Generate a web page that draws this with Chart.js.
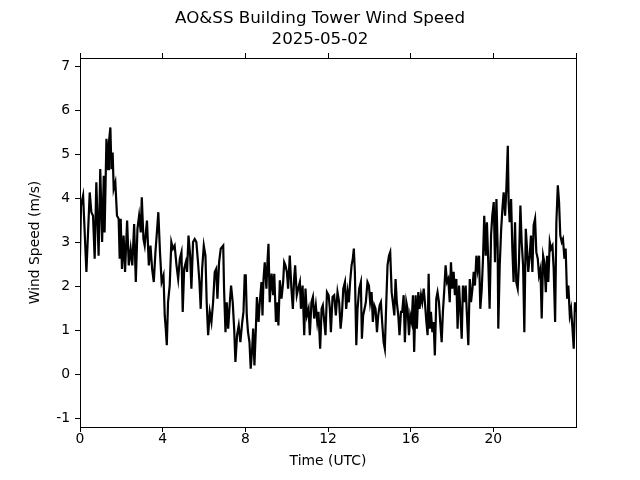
<!DOCTYPE html>
<html>
<head>
<meta charset="utf-8">
<title>AO&amp;SS Building Tower Wind Speed</title>
<script src="https://cdn.jsdelivr.net/npm/chart.js@4.4.1/dist/chart.umd.min.js"></script>
<style>
  html, body { margin: 0; padding: 0; background: #fff; }
  #wrap { width: 640px; height: 480px; }
</style>
</head>
<body>
<div id="wrap"><canvas id="windChart" width="640" height="480"></canvas></div>
<script>
// Time of each reading, hours UTC
const hours = [
  0.00, 0.05, 0.15, 0.31, 0.47, 0.55, 0.63, 0.71, 0.79, 0.90,
  0.98, 1.07, 1.15, 1.19, 1.28, 1.36, 1.40, 1.47, 1.52, 1.58,
  1.63, 1.71, 1.79, 1.87, 1.92, 1.97, 2.03, 2.11, 2.18, 2.28,
  2.36, 2.45, 2.53, 2.62, 2.70, 2.78, 2.86, 2.94, 2.99, 3.07,
  3.13, 3.24, 3.33, 3.41, 3.49, 3.57, 3.65, 3.71, 3.79, 3.87,
  3.95, 4.04, 4.10, 4.15, 4.20, 4.26, 4.34, 4.42, 4.50, 4.58,
  4.67, 4.75, 4.83, 4.91, 4.97, 5.04, 5.12, 5.18, 5.25, 5.33,
  5.39, 5.47, 5.55, 5.63, 5.71, 5.78, 5.84, 5.91, 5.99, 6.07,
  6.13, 6.20, 6.28, 6.36, 6.44, 6.52, 6.59, 6.65, 6.73, 6.81,
  6.93, 6.97, 7.04, 7.10, 7.17, 7.25, 7.31, 7.39, 7.46, 7.52,
  7.60, 7.68, 7.76, 7.85, 7.91, 7.97,
  8.02, 8.07, 8.13, 8.20, 8.26, 8.33, 8.38, 8.44, 8.51, 8.56,
  8.64, 8.70, 8.78, 8.83, 8.88, 8.94, 9.02, 9.07, 9.12, 9.18,
  9.27, 9.35, 9.40, 9.48, 9.56, 9.60, 9.67, 9.75, 9.83, 9.88,
  9.94, 10.01, 10.07, 10.15, 10.23, 10.30, 10.36, 10.41, 10.49, 10.56,
  10.64, 10.69, 10.77, 10.85, 10.91, 10.98, 11.06, 11.12, 11.20, 11.27,
  11.33, 11.41, 11.48, 11.54, 11.62, 11.69, 11.75, 11.82, 11.88, 11.95,
  12.03, 12.09, 12.14, 12.22, 12.30, 12.38, 12.46, 12.54, 12.61, 12.67,
  12.74, 12.82, 12.88, 12.95, 13.01, 13.07, 13.14, 13.20, 13.25, 13.30,
  13.37, 13.43, 13.51, 13.59, 13.64, 13.70, 13.77, 13.83, 13.91, 13.98,
  14.04, 14.11, 14.17, 14.24, 14.30, 14.37, 14.43, 14.50, 14.56, 14.62,
  14.69, 14.75, 14.82, 14.88, 14.95, 15.01, 15.08, 15.14, 15.21, 15.27,
  15.33, 15.40, 15.46, 15.53, 15.59, 15.66, 15.72, 15.79, 15.85, 15.92,
  15.98,
  16.05, 16.11, 16.17, 16.24, 16.30, 16.37, 16.43, 16.50, 16.56, 16.63,
  16.69, 16.76, 16.82, 16.87, 16.92, 16.98, 17.05, 17.11, 17.17, 17.24,
  17.30, 17.37, 17.43, 17.50, 17.56, 17.63, 17.69, 17.76, 17.82, 17.89,
  17.95, 18.01, 18.08, 18.14, 18.21, 18.27, 18.34, 18.40, 18.47, 18.53,
  18.60, 18.66, 18.73, 18.79, 18.86, 18.92, 18.99, 19.05, 19.11, 19.18,
  19.24, 19.31, 19.37, 19.44, 19.50, 19.56, 19.63, 19.69, 19.76, 19.82,
  19.89, 19.95, 20.02, 20.08, 20.15, 20.21, 20.24, 20.31, 20.38, 20.44,
  20.50, 20.57, 20.63, 20.70, 20.74, 20.79, 20.86, 20.92, 20.98, 21.05,
  21.11, 21.18, 21.24, 21.31, 21.37, 21.44, 21.50, 21.57, 21.63, 21.69,
  21.76, 21.82, 21.89, 21.95, 22.02, 22.08, 22.15, 22.21, 22.28, 22.34,
  22.41, 22.47, 22.54, 22.60, 22.66, 22.73, 22.79, 22.86, 22.92, 22.99,
  23.05, 23.12, 23.18, 23.24, 23.31, 23.37, 23.44, 23.50, 23.57, 23.63,
  23.70, 23.76, 23.83, 23.89, 23.95, 23.98
];

// Wind speed (m/s), same order as hours
const windSpeed = [
  2.70, 3.85, 4.07, 2.33, 4.14, 3.69, 3.61, 2.63, 4.37, 2.70,
  4.67, 3.01, 4.52, 3.23, 5.36, 4.67, 5.28, 5.62, 4.67, 5.05,
  4.22, 4.37, 3.61, 3.54, 2.63, 3.54, 2.40, 3.16, 2.33, 3.50,
  2.48, 2.86, 2.48, 3.42, 2.10, 3.31, 3.61, 3.23, 4.03, 3.08,
  2.93, 3.50, 2.48, 2.93, 2.40, 2.10, 2.78, 3.16, 3.69, 2.78,
  2.10, 2.25, 1.34, 1.04, 0.66, 1.64, 2.02, 3.01, 2.86, 2.93,
  2.48, 2.17, 2.63, 2.78, 1.42, 2.40, 2.55, 2.33, 3.16, 2.70,
  1.95, 3.01, 3.08, 3.01, 2.55, 2.10, 1.49, 2.40, 2.93, 2.70,
  1.64, 0.89, 1.42, 1.19, 1.64, 2.33, 2.40, 1.72, 2.55, 2.86,
  2.93, 1.95, 0.96, 1.64, 1.04, 1.64, 2.02, 1.64, 1.04, 0.28,
  0.89, 1.11, 0.73, 1.19, 1.42, 2.25,
  2.25, 1.34, 0.96, 0.73, 0.13, 0.58, 1.04, 0.20, 1.04, 1.76,
  1.19, 1.64, 2.10, 1.34, 2.17, 2.55, 1.95, 2.55, 2.97, 1.64,
  2.29, 1.80, 2.29, 1.19, 1.64, 1.11, 2.14, 1.72, 2.10, 2.55,
  2.48, 2.33, 1.95, 2.70, 1.95, 1.49, 2.17, 2.48, 1.80, 1.95,
  2.10, 1.49, 2.02, 0.89, 1.95, 1.34, 1.49, 0.89, 1.64, 1.76,
  1.27, 1.57, 1.19, 1.42, 0.58, 1.49, 1.57, 1.19, 0.89, 1.87,
  1.80, 1.49, 0.96, 1.76, 1.80, 1.34, 1.87, 1.64, 1.04, 1.34,
  1.95, 2.10, 1.49, 1.87, 1.64, 2.10, 2.48, 2.63, 2.86, 2.33,
  0.66, 1.49, 1.95, 2.10, 0.81, 1.34, 1.49, 1.64, 2.10, 2.02,
  1.64, 1.87, 1.19, 1.57, 1.49, 0.96, 1.34, 1.57, 1.64, 1.19,
  0.73, 0.58, 1.64, 2.48, 2.70, 2.78, 1.87, 1.64, 1.34, 2.17,
  1.64, 1.34, 0.89, 1.42, 1.42, 1.80, 0.73, 1.64, 1.49, 0.89,
  1.34,
  1.19, 1.80, 0.51, 1.80, 1.04, 1.87, 1.49, 1.80, 1.64, 1.95,
  1.64, 1.19, 0.89, 2.29, 1.04, 1.42, 0.96, 1.19, 0.43, 1.72,
  1.87, 1.64, 1.19, 0.73, 1.42, 1.95, 2.48, 2.10, 2.17, 1.64,
  2.55, 1.95, 2.33, 1.80, 2.17, 1.04, 2.02, 1.49, 0.81, 2.02,
  1.64, 2.02, 1.27, 0.66, 2.17, 1.64, 1.95, 2.33, 2.02, 2.70,
  2.40, 2.70, 1.49, 1.95, 2.63, 3.61, 2.70, 3.46, 2.48, 1.49,
  3.16, 3.61, 3.92, 2.55, 3.99, 2.86, 1.04, 2.48, 3.31, 3.77,
  4.14, 3.61, 4.22, 5.20, 3.92, 3.46, 3.99, 2.86, 2.10, 3.46,
  2.10, 1.95, 2.55, 3.84, 3.01, 2.48, 0.96, 3.31, 2.86, 2.33,
  2.70, 3.16, 2.33, 3.39, 3.54, 2.78, 2.63, 2.25, 2.40, 1.27,
  2.70, 2.55, 1.87, 2.70, 2.10, 3.01, 2.86, 2.93, 2.40, 1.19,
  3.46, 4.30, 3.92, 3.16, 3.01, 3.08, 2.63, 2.86, 1.72, 2.02,
  1.34, 1.49, 1.04, 0.58, 1.64, 1.42
];

const xTicks = [0, 4, 8, 12, 16, 20];
const xTopTicks = [0, 4, 8, 12, 16, 20, 24];
const yTicks = [-1, 0, 1, 2, 3, 4, 5, 6, 7];

const titleLines = ['AO&SS Building Tower Wind Speed', '2025-05-02'];
const xLabel = 'Time (UTC)';
const yLabel = 'Wind Speed (m/s)';

Chart.defaults.color = '#000';
Chart.defaults.font.family = 'DejaVu Sans';

const tickFont = { family: 'DejaVu Sans', size: 13.9, lineHeight: 1 };
const labelFont = { family: 'DejaVu Sans', size: 13.9 };
const tickGrid = { display: true, drawOnChartArea: false, tickLength: 5, color: '#000', lineWidth: 1 };
const axisBorder = { display: true, color: '#000', width: 1 };

const points = hours.map((h, i) => ({ x: h, y: windSpeed[i] }));

const ctx = document.getElementById('windChart').getContext('2d');
new Chart(ctx, {
  type: 'line',
  data: {
    datasets: [{
      data: points,
      borderColor: '#000',
      borderWidth: 2.2,
      pointRadius: 0,
      tension: 0,
      fill: false
    }]
  },
  options: {
    responsive: false,
    animation: false,
    layout: { padding: 0 },
    plugins: {
      legend: { display: false },
      tooltip: { enabled: false },
      title: {
        display: true,
        text: titleLines,
        color: '#000',
        font: { family: 'DejaVu Sans', size: 16.7, weight: 'normal', lineHeight: '20.8px' },
        padding: { top: 8.2, bottom: 3.2 }
      }
    },
    scales: {
      x: {
        type: 'linear',
        axis: 'x',
        position: 'bottom',
        min: 0,
        max: 24,
        afterBuildTicks: (s) => { s.ticks = xTicks.map(v => ({ value: v })); },
        afterFit: (s) => { s.height = 53; },
        ticks: { font: tickFont, padding: 0, maxRotation: 0, autoSkip: false, color: '#000' },
        grid: tickGrid,
        border: axisBorder,
        title: { display: true, text: xLabel, font: labelFont, color: '#000', padding: { top: 0, bottom: 10.7 } }
      },
      x2: {
        type: 'linear',
        axis: 'x',
        position: 'top',
        min: 0,
        max: 24,
        afterBuildTicks: (s) => { s.ticks = xTopTicks.map(v => ({ value: v })); },
        afterFit: (s) => { s.height = 5; },
        ticks: { display: false },
        grid: tickGrid,
        border: axisBorder
      },
      y: {
        type: 'linear',
        axis: 'y',
        position: 'left',
        min: -1.2,
        max: 7.2,
        afterBuildTicks: (s) => { s.ticks = yTicks.map(v => ({ value: v })); },
        afterFit: (s) => { s.width = 80; },
        ticks: { font: tickFont, padding: 4.8, color: '#000' },
        grid: tickGrid,
        border: axisBorder,
        title: { display: true, text: yLabel, font: labelFont, color: '#000', padding: { top: 27.5, bottom: 0 } }
      },
      y2: {
        type: 'linear',
        axis: 'y',
        position: 'right',
        min: -1.2,
        max: 7.2,
        afterFit: (s) => { s.width = 64; },
        ticks: { display: false },
        grid: { display: false },
        border: axisBorder
      }
    }
  }
});
</script>
</body>
</html>
